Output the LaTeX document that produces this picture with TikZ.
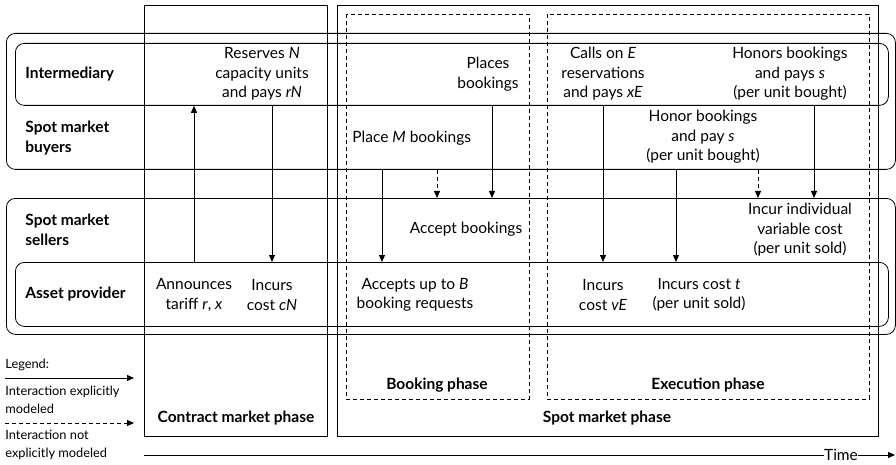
\documentclass[tikz,border=0pt]{standalone}
\usepackage{fontspec}
\setmainfont{Lato}
\usetikzlibrary{arrows.meta}
\newcommand{\mv}[1]{\textit{#1}}

\begin{document}
\begin{tikzpicture}[x=1pt, y=-1pt, line width=0.8pt,
		every node/.style={inner sep=0pt, font=\fontsize{15.5}{19.5}\selectfont, align=center},
		lane/.style={draw, rounded corners=9pt, anchor=north west},
		role/.style={anchor=west, align=left, font=\fontsize{15.5}{20}\selectfont\bfseries},
		phase/.style={font=\fontsize{15.5}{19.5}\selectfont\bfseries},
		flow/.style={-{Triangle[length=7pt,width=6pt]}},
		hint/.style={flow, dash pattern=on 4pt off 3pt},
		legend/.style={anchor=west, align=left, font=\fontsize{12.8}{18}\selectfont}]
	\useasboundingbox (0,0) rectangle (896,465);
	% lanes
	\node[lane, minimum width=889pt, minimum height=136pt] (buyers) at (6,33) {};
	\node[lane, minimum width=873pt, minimum height=62pt] (inter) at (15,43) {};
	\node[lane, minimum width=889pt, minimum height=136pt] (sellers) at (6,198) {};
	\node[lane, minimum width=873pt, minimum height=64pt] (asset) at (15,262) {};
	% phases
	\draw (144,5) rectangle (327,436);
	\draw (337,5) rectangle (878,436);
	\draw[dash pattern=on 4pt off 3pt] (346,14) rectangle (529,399);
	\draw[dash pattern=on 4pt off 3pt] (547,14) rectangle (869,399);
	\node[role] at (25,74) {Intermediary};
	\node[role] at (25,138) {Spot market\\buyers};
	\node[role] at (25,230) {Spot market\\sellers};
	\node[role] at (25,294) {Asset provider};
	% actions
	\node (reserve) at (262,74) {Reserves \mv{N}\\capacity units\\and pays \mv{rN}};
	\node (tariff) at (194,295) {Announces\\tariff \mv{r}, \mv{x}};
	\node (costN) at (272,295) {Incurs\\cost \mv{cN}};
	\node (places) at (488,74) {Places\\bookings};
	\node[anchor=west] (placeM) at (352,138) {Place \mv{M} bookings};
	\node (accept) at (466,229) {Accept bookings};
	\node (accepts) at (415,295) {Accepts up to \mv{B}\\booking requests};
	\node (calls) at (603,74) {Calls on \mv{E}\\reservations\\and pays \mv{xE}};
	\node (honors) at (790,74) {Honors bookings\\and pays \mv{s}\\(per unit bought)};
	\node (honor) at (703,137) {Honor bookings\\and pay \mv{s}\\(per unit bought)};
	\node (incur) at (800,230) {Incur individual\\variable cost\\(per unit sold)};
	\node (costvE) at (603,295) {Incurs\\cost \mv{vE}};
	\node (costt) at (699,295) {Incurs cost \mv{t}\\(per unit sold)};
	\node[phase] (booking) at (437,385) {Booking phase};
	\node[phase] (execution) at (708,385) {Execution phase};
	\node[phase] (contract) at (236,418) {Contract market phase};
	\node[phase] (spot) at (607,418) {Spot market phase};
	% interactions
	\foreach \n/\x in {mb/382, ab/437, pb/492, hb/676, ic/758, hs/814}
		\coordinate (\n) at (\x,0);
	\draw[flow] (asset.north -| tariff) -- (inter.south -| tariff);
	\draw[flow] (inter.south -| costN) -- (asset.north -| costN);
	\draw[flow] (buyers.south -| mb) -- (asset.north -| mb);
	\draw[hint] (buyers.south -| ab) -- (sellers.north -| ab);
	\draw[flow] (inter.south -| pb) -- (sellers.north -| pb);
	\draw[flow] (inter.south -| calls) -- (asset.north -| calls);
	\draw[flow] (buyers.south -| hb) -- (asset.north -| hb);
	\draw[hint] (buyers.south -| ic) -- (sellers.north -| ic);
	\draw[flow] (inter.south -| hs) -- (sellers.north -| hs);
	% legend
	\node[legend] (leg) at (5,365) {Legend:};
	\coordinate (ls1) at (5,378);
	\coordinate (le1) at (134,378);
	\coordinate (ls2) at (5,423);
	\coordinate (le2) at (134,423);
	\draw[flow] (ls1) -- (le1);
	\node[legend] (legflow) at (5,400) {Interaction explicitly\\modeled};
	\draw[hint] (ls2) -- (le2);
	\node[legend] (leghint) at (5,445) {Interaction not\\explicitly modeled};
	% time axis
	\coordinate (t0) at (144,455);
	\coordinate (t1) at (895,455);
	\node (time) at (841,455) {Time};
	\draw (t0) -- (time.west);
	\draw[flow] (time.east) -- (t1);
\end{tikzpicture}
\end{document}
